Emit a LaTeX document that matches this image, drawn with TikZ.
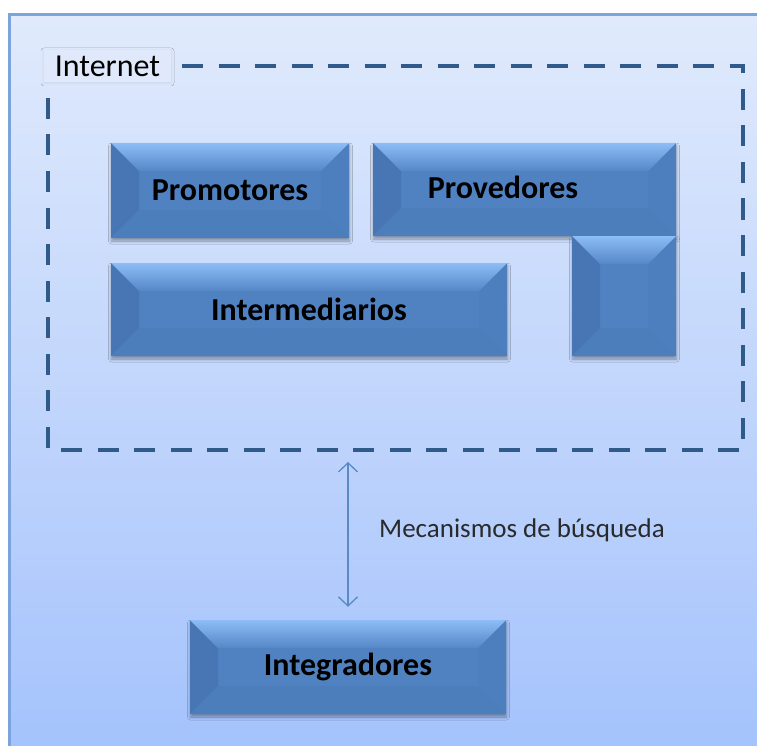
\documentclass[tikz,border=0pt]{standalone}
\usepackage{fontspec}
\setmainfont{Carlito}
\usetikzlibrary{shadows.blur,arrows.meta}

\definecolor{bgtop}{HTML}{E0EAFC}
\definecolor{bgbot}{HTML}{A5C3FC}
\definecolor{frameblue}{HTML}{7BA4DC}
\definecolor{dashblue}{HTML}{2F5A8A}
\definecolor{facemain}{HTML}{5082C1}
\definecolor{faceleft}{HTML}{4876B5}
\definecolor{faceright}{HTML}{4D7EBD}
\definecolor{facebottom}{HTML}{4D7EBC}
\definecolor{facetoplight}{HTML}{8CBDF6}
\definecolor{facetopdark}{HTML}{5587C7}
\definecolor{arrowblue}{HTML}{5A89C6}
\definecolor{labelfill}{HTML}{E0E9FB}
\definecolor{notetext}{HTML}{2A2A2A}

\tikzset{
  % beveled block: four slanted faces around a flat centre
  bevelbox/.style={
    rectangle, inner sep=0pt, fill=facemain,
    font=\bfseries\fontsize{32pt}{38pt}\selectfont, text=black,
    blur shadow={shadow xshift=0.5pt, shadow yshift=-3pt,
                 shadow blur radius=3pt, shadow opacity=35},
    path picture={
      \path (path picture bounding box.south west) coordinate (bb-sw)
            (path picture bounding box.north west) coordinate (bb-nw)
            (path picture bounding box.north east) coordinate (bb-ne)
            (path picture bounding box.south east) coordinate (bb-se);
      \fill[faceleft] (bb-sw) -- (bb-nw) -- ([shift={(28pt,-28pt)}]bb-nw)
            -- ([shift={(28pt,28pt)}]bb-sw) -- cycle;
      \fill[faceright] (bb-ne) -- (bb-se) -- ([shift={(-28pt,28pt)}]bb-se)
            -- ([shift={(-28pt,-28pt)}]bb-ne) -- cycle;
      \fill[facebottom] (bb-sw) -- (bb-se) -- ([shift={(-28pt,28pt)}]bb-se)
            -- ([shift={(28pt,28pt)}]bb-sw) -- cycle;
      \shade[top color=facetoplight, bottom color=facetopdark]
            (bb-nw) -- (bb-ne) -- ([shift={(-28pt,-28pt)}]bb-ne)
            -- ([shift={(28pt,-28pt)}]bb-nw) -- cycle;
    }},
  tagbox/.style={rectangle, inner sep=0pt, fill=labelfill,
    font=\fontsize{32pt}{38pt}\selectfont, text=black,
    blur shadow={shadow xshift=0pt, shadow yshift=-1pt,
                 shadow blur radius=3pt, shadow opacity=8}},
  zoneline/.style={draw=dashblue, line width=4pt,
    dash pattern=on 21pt off 15.5pt, dash phase=12pt},
  linkarrow/.style={draw=arrowblue, line width=1.3pt,
    {Straight Barb[length=9pt,width=19pt]}-{Straight Barb[length=9pt,width=19pt]}},
  notelabel/.style={font=\fontsize{27pt}{32pt}\selectfont, text=notetext, inner sep=0pt}
}

\begin{document}
\begin{tikzpicture}[x=1pt,y=-1pt]
  \useasboundingbox (0,0) rectangle (757,746);
  \fill[white] (0,0) rectangle (757,746);

  % page background: vertical gradient built from thin bands, then its frame
  \foreach \i in {0,...,60} {
    \pgfmathsetmacro{\mixpct}{100-\i*100/60}
    \fill[bgtop!\mixpct!bgbot] (9,14+\i*12) rectangle (757,14+\i*12+13);
  }
  \draw[frameblue, line width=3pt] (9.5,746) -- (9.5,14.5) -- (757,14.5);

  % dashed Internet zone
  \coordinate (inet-nw) at (48,66);
  \coordinate (inet-ne) at (743,66);
  \coordinate (inet-se) at (743,450);
  \coordinate (inet-sw) at (48,450);
  \draw[zoneline] (inet-nw) -- (inet-ne) -- (inet-se) -- (inet-sw) -- cycle;
  \node[tagbox, minimum width=127pt, minimum height=32pt] (internet) at (107.5,66) {Internet};

  % blocks inside the zone
  \node[bevelbox, minimum width=238pt, minimum height=95pt] (promotores) at (230,190.5) {Promotores};
  \node[bevelbox, minimum width=303pt, minimum height=93pt] (provedores) at (524.5,189.5) {};
  \node[bevelbox, minimum width=104pt, minimum height=120pt] (provedores-ext) at (624,296) {};
  \node[font=\bfseries\fontsize{32pt}{38pt}\selectfont, inner sep=0pt] (provedores-text) at (503,187) {Provedores};
  \node[bevelbox, minimum width=396pt, minimum height=93pt] (intermediarios) at (309,309.5) {Intermediarios};

  % block below the zone
  \node[bevelbox, minimum width=316pt, minimum height=94pt] (integradores) at (348,667) {Integradores};

  % link between zone and integrators
  \draw[linkarrow, shorten <=12pt, shorten >=13pt]
    (integradores.north |- inet-sw) -- (integradores.north);
  \node[notelabel, anchor=base west] (mecanismos) at (379,537) {Mecanismos de búsqueda};
\end{tikzpicture}
\end{document}
